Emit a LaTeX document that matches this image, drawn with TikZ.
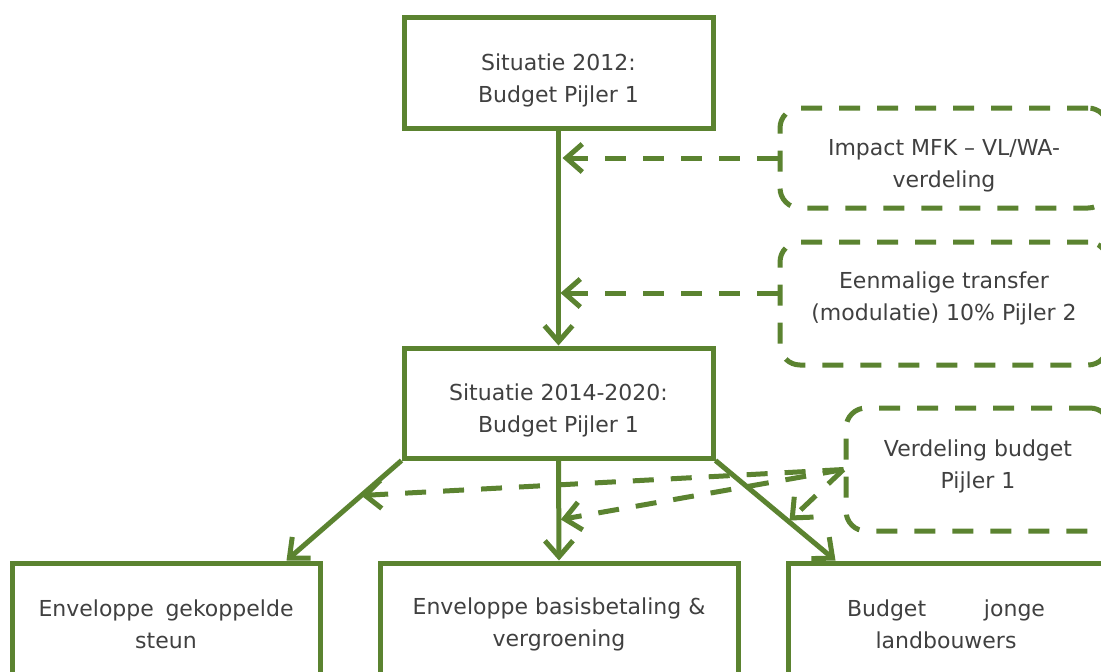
\documentclass[tikz,border=0pt]{standalone}
\usepackage{fontspec}
\setmainfont{DejaVu Sans}
\usepackage{xcolor}
\usetikzlibrary{arrows.meta, positioning, calc}
\definecolor{leafgreen}{HTML}{5B8330}
\definecolor{txtgray}{HTML}{404040}
\newcommand{\topgap}[1]{\rule{0pt}{#1}}
\newcommand{\bottomgap}[1]{\rule[-#1]{0pt}{0pt}}

\begin{document}
\begin{tikzpicture}[x=0.5pt, y=-0.5pt,
    box/.style={draw=leafgreen, line width=2.5pt, text=txtgray, align=center, inner sep=0pt,
        font=\fontsize{11}{16}\selectfont},
    note/.style={box, dash pattern=on 10.5pt off 8.5pt, rounded corners=10pt},
    link/.style={draw=leafgreen, line width=2.5pt, -{Straight Barb[length=8pt,width=14pt]}},
    feed/.style={link, dash pattern=on 10.5pt off 8.5pt}]
\useasboundingbox (0,0) rectangle (1101,671);

% boxes in the middle column
\node[box, minimum width=154.5pt, minimum height=55.5pt] (sit12) at (558.5,72.5) {\topgap{16.4pt}Situatie 2012:\\Budget Pijler 1};
\node[box, minimum width=154.5pt, minimum height=55pt] (sit14) at (558.5,403) {\topgap{15.4pt}Situatie 2014-2020:\\Budget Pijler 1};

% side notes
\node[note, minimum width=164pt, minimum height=50pt] (impact) at (944,158) {\topgap{15.4pt}Impact MFK – VL/WA-\\verdeling};
\node[note, minimum width=164pt, minimum height=61.5pt] (transfer) at (944,303.5) {Eenmalige transfer\\(modulatie) 10\% Pijler 2\bottomgap{7.3pt}};
\node[note, minimum width=132pt, minimum height=61.5pt] (verdeling) at (978,469.5) {Verdeling budget\\Pijler 1\bottomgap{5.3pt}};

% envelopes
\node[box, minimum width=154pt, minimum height=61pt, text width=127.5pt] (gekop) at (166,624) {Enveloppe\hfill gekoppelde\\steun};
\node[box, minimum width=179pt, minimum height=61pt] (basis) at (559,624) {Enveloppe basisbetaling \&\\vergroening};
\node[box, minimum width=158pt, minimum height=61pt, text width=99pt] (jonge) at (946,624) {Budget\hfill jonge\\landbouwers};

\coordinate (lefttip) at ([xshift=-18pt]gekop.north east);
\coordinate (righttip) at ([xshift=25pt]jonge.north west);

\draw[link] (sit12) -- (sit14);
\draw[feed] (impact.west) -- ([xshift=2pt]impact.west -| sit12.south);
\draw[feed] ([yshift=5.25pt]transfer.west) -- ([yshift=5.25pt, xshift=1pt]transfer.west -| sit12.south);

\draw[link] (sit14.south west) -- (lefttip);
\draw[link] (sit14.south) -- (basis.north);
\draw[link] (sit14.south east) -- (righttip);

\draw[feed] (verdeling.west) -- ($(sit14.south west)!0.35!(lefttip)$);
\draw[feed] (verdeling.west) -- ([xshift=1pt]$(sit14.south)!0.59!(basis.north)$);
\draw[feed] (verdeling.west) -- ([xshift=1pt]$(sit14.south east)!0.6!(righttip)$);
\end{tikzpicture}
\end{document}
